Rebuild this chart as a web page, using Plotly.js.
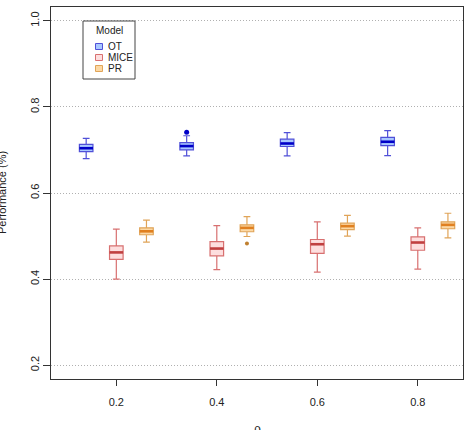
<!DOCTYPE html>
<html>
<head>
<meta charset="utf-8">
<script src="https://cdn.plot.ly/plotly-3.0.1.min.js"></script>
<style>html,body{margin:0;padding:0;background:#fff;} #chart{width:470px;height:430px;}</style>
</head>
<body>
<div id="chart"></div>
<script>
// rho values (x categories)
const rho = [0.2, 0.4, 0.6, 0.8];
const models = ["OT", "MICE", "PR"];
const offsets = [-0.06, 0, 0.06];

// Box statistics
const OT_low    = [0.680, 0.686, 0.686, 0.687];
const OT_q1     = [0.696, 0.700, 0.708, 0.710];
const OT_med    = [0.704, 0.709, 0.715, 0.719];
const OT_q3     = [0.713, 0.717, 0.725, 0.729];
const OT_high   = [0.727, 0.733, 0.740, 0.745];

const MICE_low  = [0.400, 0.422, 0.416, 0.423];
const MICE_q1   = [0.446, 0.454, 0.460, 0.467];
const MICE_med  = [0.462, 0.471, 0.481, 0.485];
const MICE_q3   = [0.477, 0.487, 0.492, 0.498];
const MICE_high = [0.516, 0.524, 0.533, 0.519];

const PR_low    = [0.486, 0.499, 0.500, 0.496];
const PR_q1     = [0.503, 0.510, 0.515, 0.517];
const PR_med    = [0.511, 0.519, 0.523, 0.526];
const PR_q3     = [0.519, 0.526, 0.530, 0.533];
const PR_high   = [0.537, 0.545, 0.548, 0.553];

// Outliers
const OT_out_x = [0.4];   const OT_out_y = [0.741];
const PR_out_x = [0.4];   const PR_out_y = [0.483];

const xTitle = "ρ";
const yTitle = "Performance (%)";
const legendTitle = "Model";

const stats = {
  OT:   {low: OT_low, q1: OT_q1, med: OT_med, q3: OT_q3, high: OT_high},
  MICE: {low: MICE_low, q1: MICE_q1, med: MICE_med, q3: MICE_q3, high: MICE_high},
  PR:   {low: PR_low, q1: PR_q1, med: PR_med, q3: PR_q3, high: PR_high}
};
const lineCol = {OT: "#5050d8", MICE: "#d87070", PR: "#e0a458"};
const fillCol = {OT: "#a9c8ff", MICE: "#fddede", PR: "#fcd8a4"};
const medCol  = {OT: "#0000c8", MICE: "#c04040", PR: "#e08020"};
const boxW = 0.027;

const traces = [];
models.forEach((m, i) => {
  const s = stats[m];
  const xs = rho.map(r => +(r + offsets[i]).toFixed(3));
  traces.push({
    type: "box", name: m, x: xs,
    q1: s.q1, median: s.med, q3: s.q3, lowerfence: s.low, upperfence: s.high,
    width: boxW, whiskerwidth: 0.5, showlegend: false,
    fillcolor: fillCol[m], line: {color: lineCol[m], width: 1.2},
    hoverinfo: "skip"
  });
});
// thick medians
models.forEach((m, i) => {
  const s = stats[m];
  const mx = [], my = [];
  rho.forEach((r, k) => {
    const c = r + offsets[i];
    mx.push(c - boxW / 2, c + boxW / 2, null);
    my.push(s.med[k], s.med[k], null);
  });
  traces.push({type: "scatter", mode: "lines", x: mx, y: my, showlegend: false,
    line: {color: medCol[m], width: 2.6}, hoverinfo: "skip"});
});
traces.push({type: "scatter", mode: "markers", x: OT_out_x.map(v => v + offsets[0]), y: OT_out_y,
  marker: {color: "#0000c8", size: 5}, showlegend: false, hoverinfo: "skip"});
traces.push({type: "scatter", mode: "markers", x: PR_out_x.map(v => v + offsets[2]), y: PR_out_y,
  marker: {color: "#c08030", size: 4}, showlegend: false, hoverinfo: "skip"});

// Compact R-style legend drawn with shapes/annotations in paper coordinates
const M = {l: 51, r: 7, t: 7, b: 51}, W = 470, H = 430;
const pw = W - M.l - M.r, ph = H - M.t - M.b;
const px = v => (v - M.l) / pw;
const py = v => 1 - (v - M.t) / ph;
const shapes = [];
const annotations = [];
shapes.push({type: "rect", xref: "paper", yref: "paper", x0: px(83), x1: px(135), y0: py(79), y1: py(21),
  line: {color: "#444", width: 1}, fillcolor: "#fff", layer: "above"});
annotations.push({xref: "paper", yref: "paper", x: px(109), y: py(31), text: legendTitle, showarrow: false,
  xanchor: "center", yanchor: "middle", font: {size: 10, color: "#222"}});
models.forEach((m, i) => {
  const cy = 46.5 + i * 11;
  shapes.push({type: "rect", xref: "paper", yref: "paper", x0: px(95.5), x1: px(102.5), y0: py(cy + 3), y1: py(cy - 3),
    line: {color: lineCol[m], width: 1}, fillcolor: fillCol[m], layer: "above"});
  annotations.push({xref: "paper", yref: "paper", x: px(105.5), y: py(cy), text: m, showarrow: false,
    xanchor: "left", yanchor: "middle", font: {size: 10, color: "#222"}});
});
// axis titles as annotations (R places them partly outside the device)
annotations.push({xref: "paper", yref: "paper", x: 0.5, y: py(420), text: xTitle, showarrow: false,
  xanchor: "center", yanchor: "top", font: {size: 12, color: "#222"}});
annotations.push({xref: "paper", yref: "paper", x: px(2), y: 0.5, text: yTitle, showarrow: false,
  textangle: -90, xanchor: "center", yanchor: "middle", font: {size: 11, color: "#222"}});

const layout = {
  width: W, height: H,
  margin: M,
  paper_bgcolor: "#fff", plot_bgcolor: "#fff",
  font: {family: "Liberation Sans, Arial, sans-serif", size: 11, color: "#222"},
  showlegend: false,
  shapes: shapes, annotations: annotations,
  xaxis: {
    range: [0.07, 0.89], tickvals: [0.2, 0.4, 0.6, 0.8], ticktext: ["0.2", "0.4", "0.6", "0.8"],
    showgrid: false, zeroline: false, showline: true, mirror: true, linecolor: "#333", linewidth: 1,
    ticks: "outside", ticklen: 6, tickcolor: "#333", ticklabelstandoff: 7
  },
  yaxis: {
    range: [0.168, 1.032], tickvals: [0.2, 0.4, 0.6, 0.8, 1.0], ticktext: ["0.2", "0.4", "0.6", "0.8", "1.0"],
    tickangle: -90,
    showgrid: true, gridcolor: "#b0b0b0", griddash: "1px,2px", gridwidth: 1,
    zeroline: false, showline: true, mirror: true, linecolor: "#333", linewidth: 1,
    ticks: "outside", ticklen: 7, tickcolor: "#333"
  }
};
Plotly.newPlot("chart", traces, layout, {staticPlot: true, displayModeBar: false});
</script>
</body>
</html>
